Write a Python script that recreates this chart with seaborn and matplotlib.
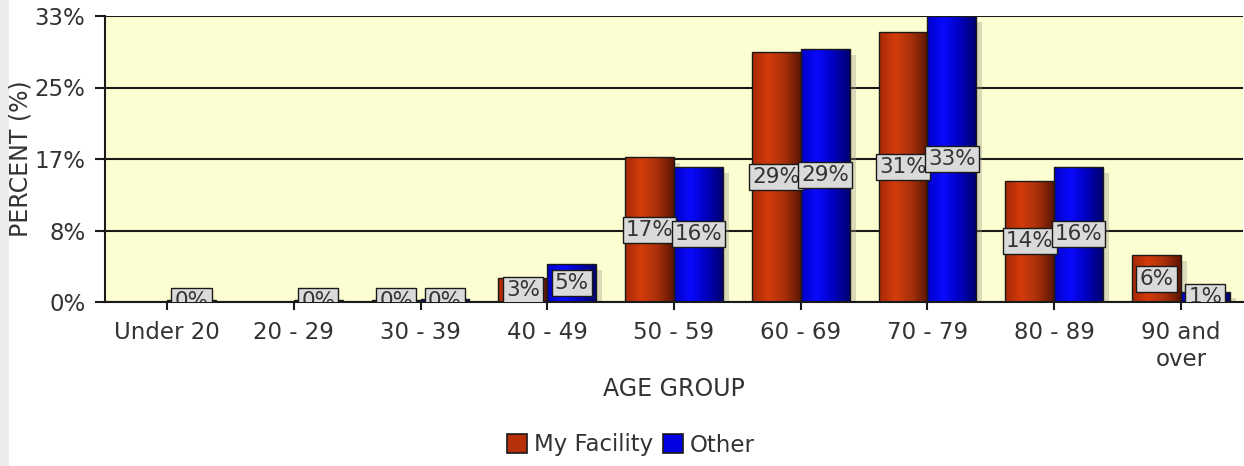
import numpy as np
import pandas as pd
import seaborn as sns
import matplotlib
matplotlib.use("Agg")
import matplotlib.pyplot as plt
from matplotlib.colors import LinearSegmentedColormap
from matplotlib.patches import Rectangle, Patch
import matplotlib.transforms as mtransforms

# ---- data ----
age_groups = ["Under 20", "20 - 29", "30 - 39", "40 - 49", "50 - 59",
              "60 - 69", "70 - 79", "80 - 89", "90 and\nover"]
series = ["My Facility", "Other"]
my_facility = [0.0, 0.0, 0.2, 2.8, 16.7, 28.8, 31.1, 14.0, 5.4]
other = [0.2, 0.2, 0.3, 4.4, 15.6, 29.2, 33.0, 15.6, 1.2]
my_labels = ["", "", "0%", "3%", "17%", "29%", "31%", "14%", "6%"]
other_labels = ["0%", "0%", "0%", "5%", "16%", "29%", "33%", "16%", "1%"]
y_ticks = [0, 8.25, 16.5, 24.75, 33]
y_tick_labels = ["0%", "8%", "17%", "25%", "33%"]

df = pd.DataFrame({
    "age": age_groups * 2,
    "series": [series[0]] * len(age_groups) + [series[1]] * len(age_groups),
    "value": my_facility + other,
})
labels_by_series = {series[0]: my_labels, series[1]: other_labels}

palette = {"My Facility": "#b8300a", "Other": "#0000e0"}
grad_cmaps = {
    "My Facility": LinearSegmentedColormap.from_list("r", ["#a82a06", "#d43c0c", "#a8300a", "#5e1603"]),
    "Other": LinearSegmentedColormap.from_list("b", ["#0000c8", "#0a0aff", "#0000c0", "#000070"]),
}

plt.rcParams["font.family"] = ["DejaVu Sans"]
W, H = 1244, 466
fig = plt.figure(figsize=(W / 100, H / 100), dpi=100)
fig.patch.set_facecolor("white")
fig.add_artist(Rectangle((0, 0), 9 / W, 1, transform=fig.transFigure,
                         facecolor="#ececec", edgecolor="none", zorder=0))

ax = fig.add_axes([105 / W, 164 / H, 1138 / W, 286 / H])
ax.set_facecolor("#fdfdd2")

sns.barplot(data=df, x="age", y="value", hue="series", order=age_groups,
            hue_order=series, palette=palette, width=0.77, gap=0,
            saturation=1, errorbar=None, edgecolor="#1a1a1a", linewidth=1.0,
            ax=ax)

grad = np.linspace(0, 1, 64).reshape(1, -1)
shadow_tr = mtransforms.offset_copy(ax.transData, fig=fig, x=6, y=-6, units="dots")
for cont, name in zip(ax.containers, series):
    labs = labels_by_series[name]
    for bar in cont:
        x0, y0 = bar.get_x(), bar.get_y()
        w, h = bar.get_width(), bar.get_height()
        idx = int(round(x0 + w / 2 + (0.2 if name == series[0] else -0.2)))
        if h > 0:
            im = ax.imshow(grad, extent=(x0, x0 + w, y0, y0 + h), cmap=grad_cmaps[name],
                           aspect="auto", interpolation="bilinear", zorder=2.4)
            im.set_clip_path(bar)
            sh = Rectangle((x0, y0), w, h, transform=shadow_tr, facecolor="#9a9a8a",
                           edgecolor="none", alpha=0.35, zorder=2.2)
            ax.add_patch(sh)
        bar.set_facecolor("none")
        bar.set_zorder(2.5)
        if h <= 0 and labs[idx] == "":
            bar.set_visible(False)
        lab = labs[idx]
        if lab:
            ax.text(x0 + w / 2, h / 2, lab, ha="center", va="center", fontsize=15.5,
                    color="#333333", zorder=6, clip_on=True,
                    bbox=dict(boxstyle="square,pad=0.14", facecolor="#dadada",
                              edgecolor="#1a1a1a", linewidth=1.0))

ax.set_xlim(-0.49, 8.49)
ax.set_ylim(0, 33)
ax.set_yticks(y_ticks)
ax.set_yticklabels(y_tick_labels)
ax.yaxis.grid(True, color="#1a1a1a", linewidth=1.5)
ax.xaxis.grid(False)
ax.set_axisbelow(True)

for s in ["top", "right"]:
    ax.spines[s].set_visible(False)
for s in ["left", "bottom"]:
    ax.spines[s].set_color("#1a1a1a")
    ax.spines[s].set_linewidth(1.5)

ax.tick_params(axis="x", length=6, width=1.5, pad=8, labelsize=16.5,
               labelcolor="#333333", color="#1a1a1a")
ax.tick_params(axis="y", length=7, width=1.5, pad=7, labelsize=16.5,
               labelcolor="#333333", color="#1a1a1a")

ax.set_xlabel("AGE GROUP", fontsize=17, color="#333333")
ax.set_ylabel("PERCENT (%)", fontsize=17, color="#333333")
ax.xaxis.set_label_coords(0.5, -0.262)
ax.yaxis.set_label_coords(-0.064, 0.5)

if ax.get_legend() is not None:
    ax.get_legend().remove()
handles = [Patch(facecolor=palette[s], edgecolor="#1a1a1a", linewidth=1.2) for s in series]
fig.legend(handles, series, loc="center", bbox_to_anchor=(631 / W, 1 - 445 / H),
           ncol=2, frameon=False, fontsize=16.5, handlelength=0.9, handleheight=0.9,
           handletextpad=0.3, columnspacing=0.4, labelcolor="#333333")

fig.savefig("out.png", dpi=100)
